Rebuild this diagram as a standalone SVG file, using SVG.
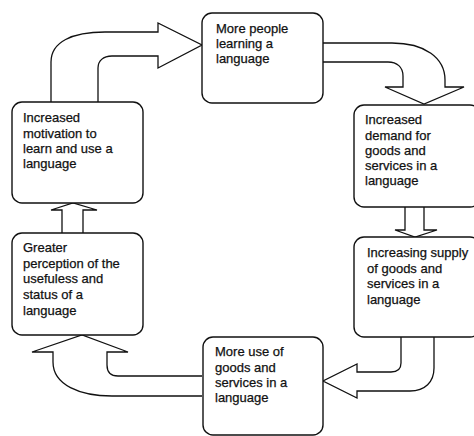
<svg xmlns="http://www.w3.org/2000/svg" width="474" height="436" viewBox="0 0 474 436">
<style>
.box{fill:#fff;stroke:#111;stroke-width:1.4}
.arr{fill:#fff;stroke:#111;stroke-width:1.3;stroke-linejoin:miter}
text{font-family:"Liberation Sans",Arial,sans-serif;font-size:13px;fill:#111;stroke:#111;stroke-width:0.25}
</style>
<rect width="474" height="436" fill="#fff"/>
<g id="connectors">
<path class="arr" d="M51,102 L51,62 C51,42 72,32 105,32 L158,32 L158,23 L202,45 L158,68 L158,56 L112,56 C103,56 98,61 98,68 L98,102"/>
<path class="arr" d="M323,43 L392,43 C425,43 445,58 445,80 L445,87 L464,87 L424,104 L385,87 L403,87 L403,76 C403,67 397,62 388,62 L323,62"/>
<path class="arr" d="M405,207 L405,230 L395,230 L415,237 L437,230 L424,230 L424,207"/>
<path class="arr" d="M401,337 L401,363 C401,369 397,372 391,372 L357,372 L357,364 L323,381 L357,398 L357,391 L410,391 C425,391 434,382 434,368 L434,337"/>
<path class="arr" d="M202,376 L118,376 C111,376 107,372 107,365 L107,352 L128,352 L82,335 L32,352 L53,352 L53,362 C53,385 80,396 112,396 L202,396"/>
<path class="arr" d="M62,233 L62,210 L51,210 L73,203 L97,210 L83,210 L83,233"/>
</g>
<g id="node-top">
<rect class="box" x="202" y="13" width="121" height="90" rx="10"/>
<text x="216" y="33">More people</text>
<text x="216" y="48">learning a</text>
<text x="216" y="63">language</text>
</g>
<g id="node-demand">
<rect class="box" x="354" y="105" width="126" height="102" rx="10"/>
<text x="365" y="124">Increased</text>
<text x="365" y="140">demand for</text>
<text x="365" y="155">goods and</text>
<text x="365" y="170">services in a</text>
<text x="365" y="185">language</text>
</g>
<g id="node-supply">
<rect class="box" x="354" y="237" width="126" height="100" rx="10"/>
<text x="367" y="257">Increasing supply</text>
<text x="367" y="273">of goods and</text>
<text x="367" y="288">services in a</text>
<text x="367" y="304">language</text>
</g>
<g id="node-use">
<rect class="box" x="203" y="337" width="120" height="98" rx="10"/>
<text x="215" y="356">More use of</text>
<text x="215" y="372">goods and</text>
<text x="215" y="387">services in a</text>
<text x="215" y="402">language</text>
</g>
<g id="node-perception">
<rect class="box" x="12" y="233" width="131" height="102" rx="10"/>
<text x="23" y="252">Greater</text>
<text x="23" y="268">perception of the</text>
<text x="23" y="283">usefuless and</text>
<text x="23" y="299">status of a</text>
<text x="23" y="315">language</text>
</g>
<g id="node-motivation">
<rect class="box" x="12" y="102" width="131" height="101" rx="10"/>
<text x="23" y="122">Increased</text>
<text x="23" y="138">motivation to</text>
<text x="23" y="153">learn and use a</text>
<text x="23" y="168">language</text>
</g>
</svg>
